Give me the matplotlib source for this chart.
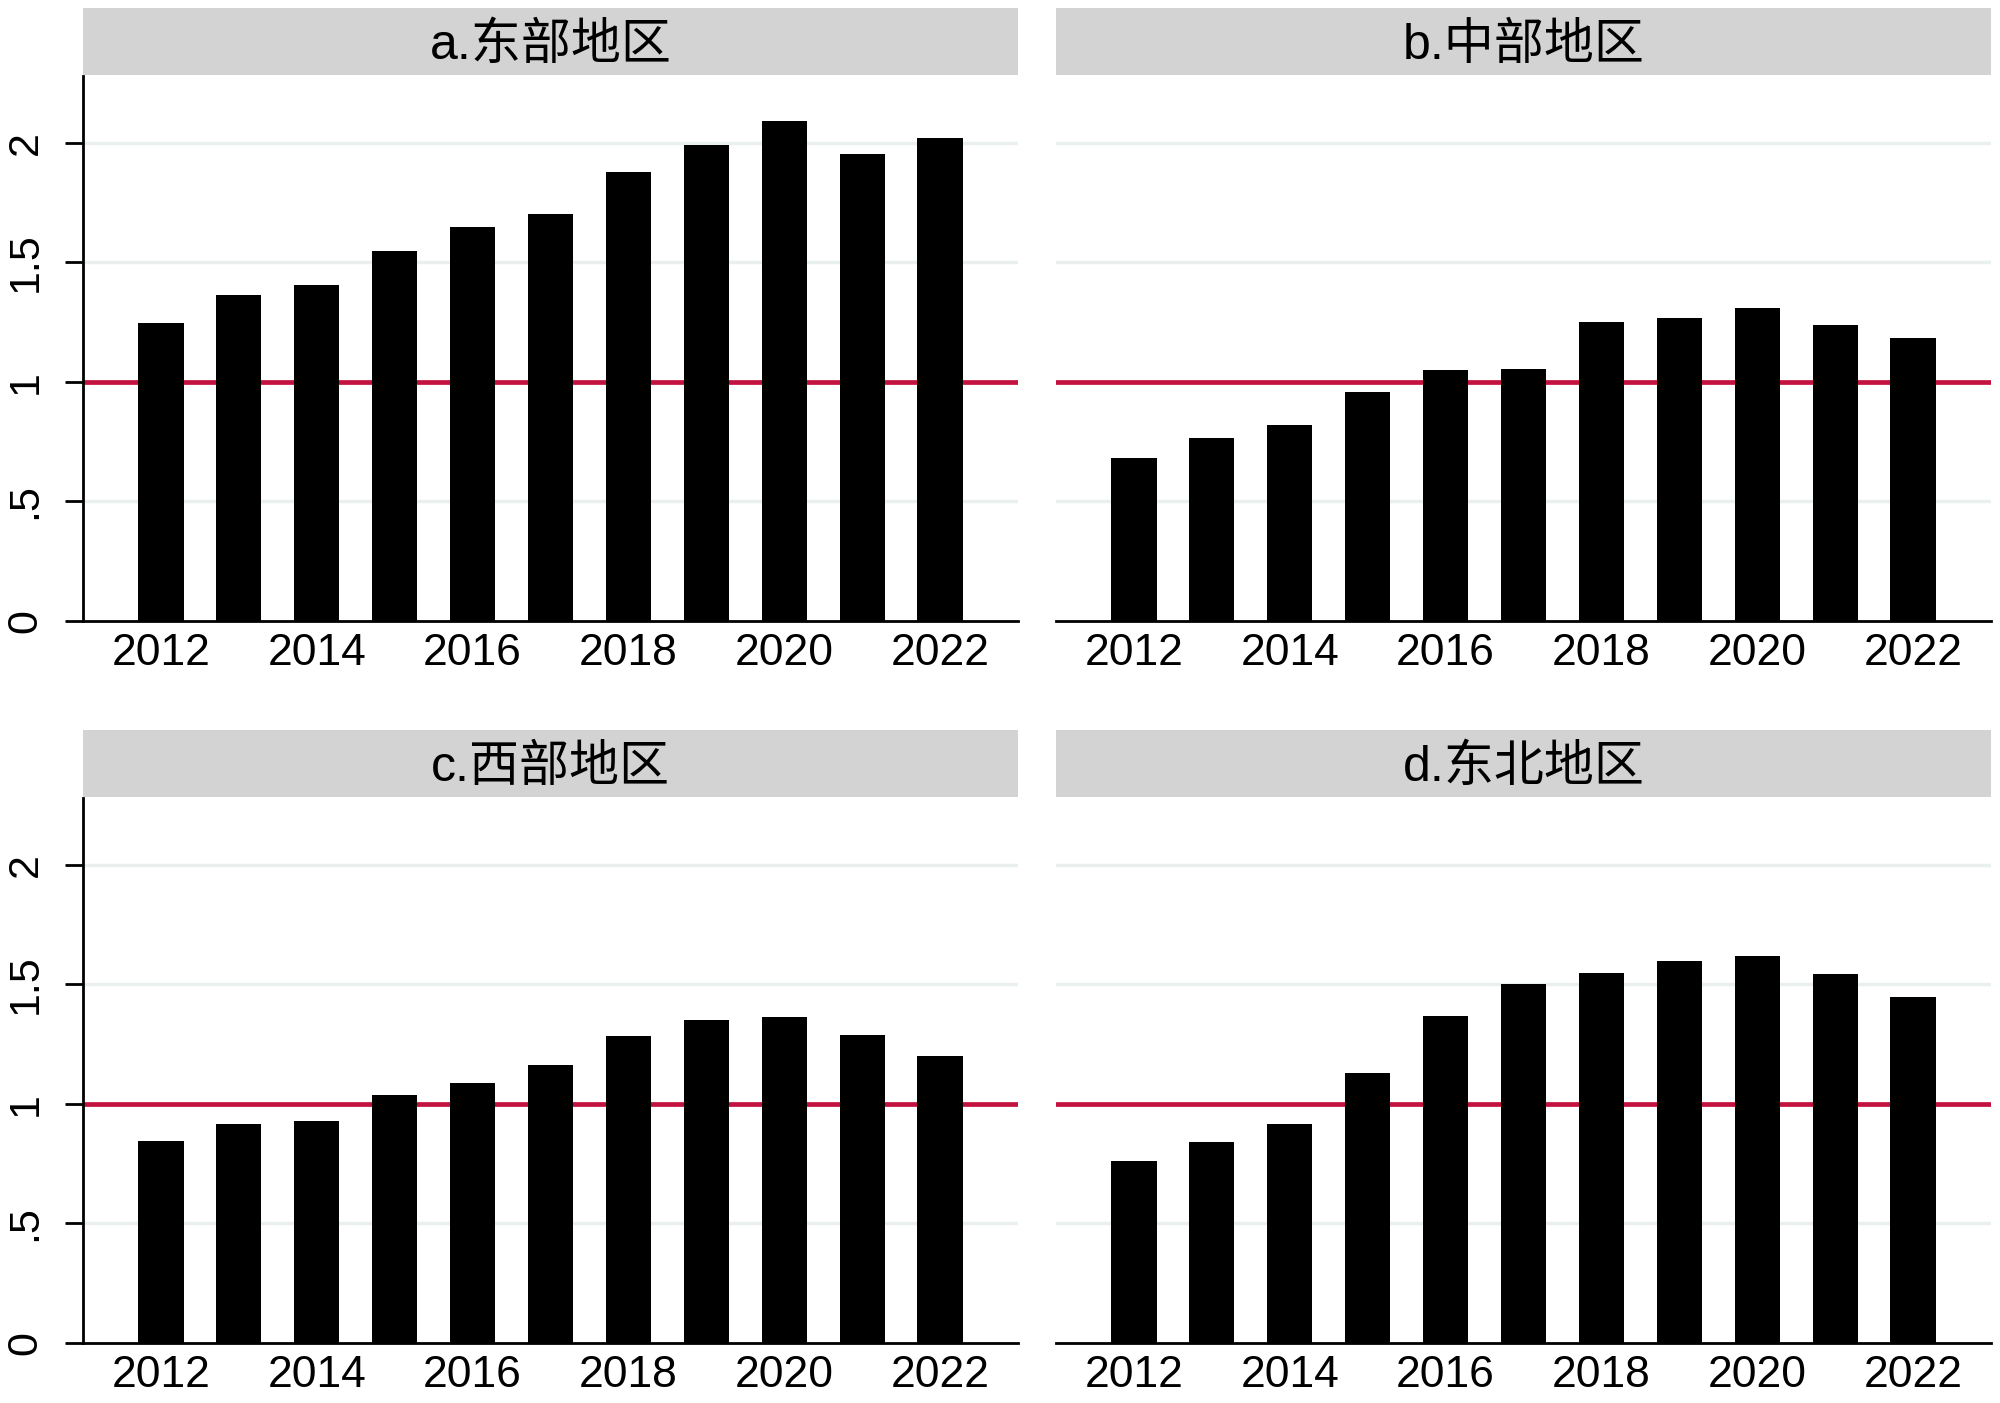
import matplotlib
matplotlib.use("Agg")
import matplotlib.pyplot as plt
import numpy as np

plt.rcParams['font.family'] = ['Liberation Sans', 'Noto Sans CJK SC', 'DejaVu Sans']

years = list(range(2012, 2023))
titles = ["a.东部地区", "b.中部地区", "c.西部地区", "d.东北地区"]

east = [1.245, 1.363, 1.407, 1.546, 1.650, 1.703, 1.879, 1.991, 2.093, 1.953, 2.022]
central = [0.682, 0.764, 0.822, 0.959, 1.052, 1.056, 1.249, 1.269, 1.310, 1.237, 1.185]
west = [0.847, 0.915, 0.928, 1.037, 1.089, 1.164, 1.284, 1.351, 1.365, 1.290, 1.200]
northeast = [0.761, 0.840, 0.918, 1.130, 1.370, 1.500, 1.549, 1.598, 1.619, 1.544, 1.448]

series = [east, central, west, northeast]
yticks = [0, 0.5, 1, 1.5, 2]
ytick_labels = ["0", ".5", "1", "1.5", "2"]
xticks = [2012, 2014, 2016, 2018, 2020, 2022]

fig = plt.figure(figsize=(20, 14.03), dpi=100)

# axes positions (fig fractions) for each panel: left, bottom, width, height
lefts = [0.0415, 0.528, 0.0415, 0.528]
bottoms = [0.5574, 0.5574, 0.0428, 0.0428]
w, h = 0.4675, 0.3884
strip_h = 0.0473

for i, vals in enumerate(series):
    ax = fig.add_axes([lefts[i], bottoms[i], w, h])
    for g in [0.5, 1.5, 2]:
        ax.axhline(g, color='#EAF0F0', lw=2.5, zorder=0)
    ax.bar(years, vals, width=0.58, color='black', zorder=2)
    ax.axhline(1, color='#C3123F', lw=3.4, zorder=1)
    ax.set_xlim(2011, 2023)
    ax.set_ylim(0, 2.28)
    ax.set_xticks(xticks)
    ax.set_xticklabels([str(x) for x in xticks], fontsize=32)
    ax.tick_params(axis='x', length=0, pad=9)
    for s in ['top', 'right']:
        ax.spines[s].set_visible(False)
    ax.spines['bottom'].set_linewidth(2)
    if i % 2 == 0:
        ax.set_yticks(yticks)
        ax.set_yticklabels(ytick_labels, fontsize=31, rotation=90, va='center')
        ax.tick_params(axis='y', length=13, width=2, pad=14)
        ax.spines['left'].set_linewidth(2)
    else:
        ax.set_yticks([])
        ax.spines['left'].set_visible(False)

    sax = fig.add_axes([lefts[i], bottoms[i] + h + 0.001, w, strip_h])
    sax.set_facecolor('#D3D3D3')
    sax.set_xticks([])
    sax.set_yticks([])
    for s in sax.spines.values():
        s.set_visible(False)
    sax.text(0.5, 0.44, titles[i], ha='center', va='center', fontsize=36,
             transform=sax.transAxes)

fig.savefig("out.png", dpi=100, facecolor='white')
